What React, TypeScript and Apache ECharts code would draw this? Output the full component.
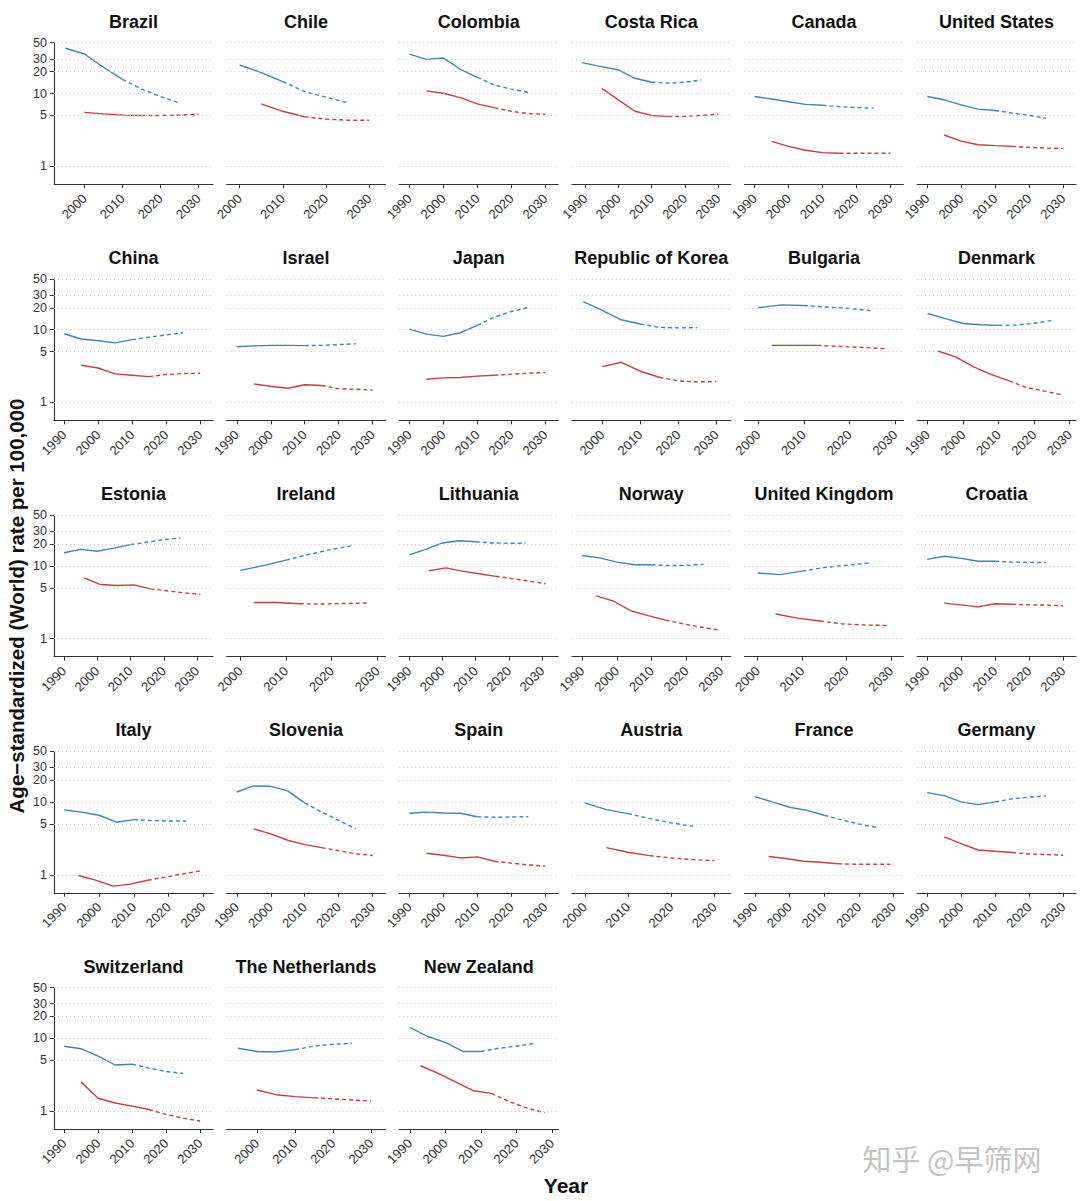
import React, { useEffect, useRef } from 'react';
import * as echarts from 'echarts';

const COUNTRIES = [
  'Brazil', 'Chile', 'Colombia', 'Costa Rica', 'Canada', 'United States',
  'China', 'Israel', 'Japan', 'Republic of Korea', 'Bulgaria', 'Denmark',
  'Estonia', 'Ireland', 'Lithuania', 'Norway', 'United Kingdom', 'Croatia',
  'Italy', 'Slovenia', 'Spain', 'Austria', 'France', 'Germany',
  'Switzerland', 'The Netherlands', 'New Zealand',
];

const BLUE_OBS_YEARS = [
  [1995, 2000, 2005, 2010], [2000, 2005, 2010], [1990, 1995, 2000, 2005, 2010], [1989, 1995, 2000, 2005, 2010], [1990, 1995, 2000, 2005, 2010], [1990, 1995, 2000, 2005, 2010],
  [1990, 1995, 2000, 2005, 2010], [1990, 1995, 2000, 2005, 2010], [1990, 1995, 2000, 2005, 2010], [1995, 2000, 2005, 2010], [2000, 2005, 2010], [1990, 1995, 2000, 2005, 2010],
  [1990, 1995, 2000, 2005, 2010], [2000, 2005, 2010], [1990, 1995, 2000, 2005, 2010], [1990, 1995, 2000, 2005, 2010], [2000, 2005, 2010], [1990, 1995, 2000, 2005, 2010],
  [1990, 1995, 2000, 2005, 2010], [1990, 1995, 2000, 2005, 2010], [1990, 1995, 2000, 2005, 2010], [2000, 2005, 2010], [1990, 1995, 2000, 2005, 2010], [1990, 1995, 2000, 2005, 2010],
  [1990, 1995, 2000, 2005, 2010], [1995, 2000, 2005, 2010], [1990, 1995, 2000, 2005, 2010],
];
const BLUE_OBS = [
  [42, 35, 23, 15.7], [24.7, 19.4, 14.6], [34.9, 29.5, 30.8, 21.5, 16.7], [26.6, 23.4, 21.1, 16.2, 14.3], [9.1, 8.4, 7.7, 7.1, 6.9], [9.1, 8.2, 7.0, 6.1, 5.85],
  [8.8, 7.45, 7.07, 6.6, 7.3], [5.85, 6.0, 6.1, 6.1, 6.05], [10.2, 8.7, 8.1, 9.1, 11.5], [24.4, 18.4, 13.7, 12.0], [20.0, 22.0, 21.5], [16.7, 14.2, 12.2, 11.7, 11.5],
  [15.2, 16.9, 15.9, 17.6, 19.6], [8.7, 10.1, 12.0], [14.2, 16.9, 20.7, 22.2, 21.5], [13.9, 12.9, 11.3, 10.4, 10.4], [8.0, 7.6, 8.5], [12.3, 13.6, 12.7, 11.6, 11.6],
  [7.8, 7.3, 6.6, 5.3, 5.75], [13.8, 16.7, 16.5, 14.3, 9.7], [7.03, 7.3, 7.1, 7.03, 6.3], [9.75, 7.9, 6.95], [11.9, 10.1, 8.5, 7.7, 6.6], [13.5, 12.3, 10.1, 9.25, 10.1],
  [7.8, 7.2, 5.7, 4.3, 4.4], [7.3, 6.6, 6.5, 7.0], [14.2, 10.6, 8.8, 6.6, 6.6],
];
const BLUE_PROJ_YEARS = [2015, 2020, 2025];
const BLUE_PROJ = [
  [11.5, 9.1, 7.4], [10.7, 8.9, 7.5], [13.1, 11.5, 10.4], [13.9, 14.3, 15.4], [6.6, 6.4, 6.3], [5.4, 5.0, 4.6],
  [7.9, 8.5, 9.1], [6.1, 6.25, 6.4], [14.9, 17.8, 20.2], [10.8, 10.6, 10.7], [20.5, 19.6, 18.2], [11.6, 12.3, 13.4],
  [21.3, 23.0, 24.2], [14.4, 16.9, 19.2], [20.7, 20.5, 20.5], [10.1, 10.2, 10.5], [9.5, 10.2, 11.0], [11.3, 11.2, 11.1],
  [5.6, 5.5, 5.5], [7.3, 5.6, 4.3], [6.2, 6.25, 6.3], [5.94, 5.18, 4.66], [5.7, 5.0, 4.5], [11.1, 11.7, 12.2],
  [3.9, 3.5, 3.3], [7.8, 8.3, 8.5], [7.3, 7.8, 8.5],
];

const RED_OBS_YEARS = [
  [2000, 2005, 2010, 2015], [2005, 2010, 2015], [1995, 2000, 2005, 2010, 2015], [1995, 2000, 2005, 2010, 2015], [1995, 2000, 2005, 2010, 2015], [1995, 2000, 2005, 2010, 2015],
  [1995, 2000, 2005, 2010, 2015], [1995, 2000, 2005, 2010, 2015], [1995, 2000, 2005, 2010, 2015], [2000, 2005, 2010, 2015], [2003, 2008, 2013], [1993, 1998, 2003, 2008, 2013],
  [1996, 2001, 2006, 2011, 2016], [2003, 2008, 2013], [1996, 2001, 2006, 2011, 2016], [1994, 1999, 2004, 2009, 2014], [2004, 2009, 2014], [1995, 2000, 2005, 2010, 2015],
  [1994, 1999, 2004, 2009, 2014], [1995, 2000, 2005, 2010, 2015], [1995, 2000, 2005, 2010, 2015], [2005, 2010, 2015], [1994, 1999, 2004, 2009, 2014], [1995, 2000, 2005, 2010, 2015],
  [1995, 2000, 2005, 2010, 2015], [2000, 2005, 2010, 2015], [1993, 1998, 2003, 2008, 2013],
];
const RED_OBS = [
  [5.5, 5.25, 5.05, 5.0], [7.2, 5.7, 4.8], [10.9, 10.1, 8.8, 7.2, 6.4], [11.8, 8.2, 5.7, 5.0, 4.85], [2.2, 1.88, 1.66, 1.54, 1.51], [2.69, 2.22, 1.98, 1.92, 1.88],
  [3.25, 2.98, 2.47, 2.37, 2.27], [1.8, 1.67, 1.57, 1.75, 1.71], [2.09, 2.18, 2.2, 2.3, 2.37], [3.11, 3.57, 2.69, 2.22], [6.1, 6.1, 6.1], [5.1, 4.2, 3.08, 2.42, 1.98],
  [6.85, 5.55, 5.38, 5.5, 4.84], [3.15, 3.15, 3.02], [8.6, 9.4, 8.5, 7.8, 7.2], [3.88, 3.28, 2.42, 2.07, 1.8], [2.18, 1.92, 1.75], [3.08, 2.92, 2.74, 3.02, 2.97],
  [0.98, 0.845, 0.7, 0.745, 0.845], [4.28, 3.66, 2.99, 2.61, 2.37], [1.98, 1.86, 1.71, 1.77, 1.54], [2.37, 2.05, 1.84], [1.79, 1.68, 1.54, 1.49, 1.42], [3.33, 2.69, 2.2, 2.11, 2.03],
  [2.5, 1.5, 1.29, 1.17, 1.05], [1.95, 1.68, 1.58, 1.52], [4.2, 3.3, 2.5, 1.9, 1.75],
];
const RED_PROJ_YEARS = [
  [2020, 2025, 2030], [2020, 2025, 2030], [2020, 2025, 2030], [2020, 2025, 2030], [2020, 2025, 2030], [2020, 2025, 2030],
  [2020, 2025, 2030], [2020, 2025, 2030], [2020, 2025, 2030], [2020, 2025, 2030], [2018, 2023, 2028], [2018, 2023, 2028],
  [2021, 2026, 2031], [2018, 2023, 2028], [2021, 2026, 2031], [2019, 2024, 2029], [2019, 2024, 2029], [2020, 2025, 2030],
  [2019, 2024, 2029], [2020, 2025, 2030], [2020, 2025, 2030], [2020, 2025, 2030], [2019, 2024, 2029], [2020, 2025, 2030],
  [2020, 2025, 2030], [2020, 2025, 2030], [2018, 2023, 2028],
];
const RED_PROJ = [
  [4.98, 5.05, 5.2], [4.45, 4.3, 4.3], [5.7, 5.3, 5.2], [4.85, 5.0, 5.2], [1.51, 1.51, 1.51], [1.82, 1.78, 1.76],
  [2.42, 2.5, 2.52], [1.54, 1.52, 1.48], [2.45, 2.52, 2.58], [1.98, 1.92, 1.94], [5.9, 5.7, 5.5], [1.6, 1.43, 1.27],
  [4.55, 4.27, 4.05], [3.0, 3.05, 3.1], [6.7, 6.2, 5.7], [1.6, 1.45, 1.32], [1.6, 1.54, 1.52], [2.92, 2.9, 2.83],
  [0.93, 1.03, 1.13], [2.15, 1.95, 1.85], [1.45, 1.37, 1.32], [1.71, 1.62, 1.57], [1.4, 1.4, 1.4], [1.94, 1.9, 1.86],
  [0.9, 0.8, 0.73], [1.47, 1.42, 1.37], [1.35, 1.1, 0.95],
];

const Y_TICKS = [1, 5, 10, 20, 30, 50];
const X_TICKS = [1990, 2000, 2010, 2020, 2030];
const Y_MIN = 0.567;
const Y_MAX = 50;

const BLUE = '#3a86b8';
const RED = '#cf3b3b';
const FONT = '"Liberation Sans", Arial, Helvetica, sans-serif';

const COLS = 6;
const LEFT0 = 54;
const STEP_X = 172.6;
const PANEL_W = 159;
const TOP0 = 42.7;
const STEP_Y = 236.2;
const PANEL_H = 141.5;

const pairs = (xs: number[], ys: number[]) => xs.map((x, k) => [x, ys[k]]);

function buildOption() {
  const grid: any[] = [];
  const xAxis: any[] = [];
  const yAxis: any[] = [];
  const series: any[] = [];
  const graphic: any[] = [];

  COUNTRIES.forEach((name, i) => {
    const col = i % COLS;
    const row = Math.floor(i / COLS);
    const left = LEFT0 + STEP_X * col;
    const top = TOP0 + STEP_Y * row;
    grid.push({ left, top, width: PANEL_W, height: PANEL_H, outerBoundsMode: 'none', containLabel: false });

    const first = Math.min(BLUE_OBS_YEARS[i][0], RED_OBS_YEARS[i][0]);
    const last = Math.max(BLUE_PROJ_YEARS[BLUE_PROJ_YEARS.length - 1], RED_PROJ_YEARS[i][RED_PROJ_YEARS[i].length - 1]);
    const xmin = first - 3;
    const xmax = last + 3.8;
    const ticks = X_TICKS.filter((t) => t >= xmin && t <= xmax);

    xAxis.push({
      type: 'value', gridIndex: i, min: xmin, max: xmax, position: 'bottom',
      axisLine: { show: true, onZero: false, lineStyle: { color: '#333', width: 1.1 } },
      axisTick: { show: true, length: 4, customValues: ticks, lineStyle: { color: '#333', width: 1 } },
      axisLabel: {
        customValues: ticks, rotate: 45, fontSize: 13, color: '#333', margin: 12, fontFamily: FONT,
        formatter: (v: number) => String(Math.round(v)),
      },
      splitLine: { show: false },
    });
    const showY = col === 0;
    yAxis.push({
      type: 'log', logBase: 10, gridIndex: i, min: Y_MIN, max: Y_MAX,
      axisLine: { show: showY, onZero: false, lineStyle: { color: '#333', width: 1.1 } },
      axisTick: { show: showY, length: 4, customValues: Y_TICKS, lineStyle: { color: '#333' } },
      axisLabel: {
        show: showY, customValues: Y_TICKS, fontSize: 12.5, lineHeight: 12, color: '#333', margin: 7, fontFamily: FONT,
        formatter: (v: number) => String(Math.round(v)),
      },
      splitLine: { show: false },
      minorTick: { show: false },
    });

    const bObs = pairs(BLUE_OBS_YEARS[i], BLUE_OBS[i]);
    const bProj = [bObs[bObs.length - 1], ...pairs(BLUE_PROJ_YEARS, BLUE_PROJ[i])];
    const rObs = pairs(RED_OBS_YEARS[i], RED_OBS[i]);
    const rProj = [rObs[rObs.length - 1], ...pairs(RED_PROJ_YEARS[i], RED_PROJ[i])];

    const base = { type: 'line', xAxisIndex: i, yAxisIndex: i, symbol: 'none', showSymbol: false, silent: true, z: 3 };
    series.push({
      ...base, data: bObs, lineStyle: { color: BLUE, width: 1.4 },
      markLine: {
        silent: true, symbol: 'none', label: { show: false },
        lineStyle: { color: '#c4c4c4', type: [1, 3], width: 1 },
        data: Y_TICKS.map((v) => ({ yAxis: v })),
        animation: false,
      },
    });
    series.push({ ...base, data: bProj, lineStyle: { color: BLUE, width: 1.4, type: [4, 3] } });
    series.push({ ...base, data: rObs, lineStyle: { color: RED, width: 1.4 } });
    series.push({ ...base, data: rProj, lineStyle: { color: RED, width: 1.4, type: [4, 3] } });

    graphic.push({
      type: 'text', x: left + PANEL_W / 2, y: top - 21,
      style: {
        text: name, fontSize: 18, fontWeight: 'bold', fontFamily: FONT, fill: '#111',
        align: 'center', verticalAlign: 'middle', textAlign: 'center', textVerticalAlign: 'middle',
      },
    });
  });

  graphic.push({
    type: 'text', x: 16, y: 606, rotation: Math.PI / 2,
    style: {
      text: 'Age\u2212standardized (World) rate per 100,000', fontSize: 20.5, fontWeight: 'bold', fontFamily: FONT, fill: '#111',
      align: 'center', verticalAlign: 'middle', textAlign: 'center', textVerticalAlign: 'middle',
    },
  });
  graphic.push({
    type: 'text', x: 566, y: 1185,
    style: {
      text: 'Year', fontSize: 21, fontWeight: 'bold', fontFamily: FONT, fill: '#111',
      align: 'center', verticalAlign: 'middle', textAlign: 'center', textVerticalAlign: 'middle',
    },
  });
  graphic.push({
    type: 'text', x: 952, y: 1158,
    style: {
      text: '知乎 @早筛网', fontSize: 29, fontFamily: '"Noto Sans CJK SC", sans-serif', fill: '#c3c3c3',
      align: 'center', verticalAlign: 'middle', textAlign: 'center', textVerticalAlign: 'middle',
    },
  });

  return { animation: false, backgroundColor: '#ffffff', grid, xAxis, yAxis, series, graphic };
}

export default function App() {
  const ref = useRef<HTMLDivElement>(null);
  useEffect(() => {
    document.body.style.margin = '0';
    const chart = echarts.init(ref.current as HTMLDivElement, null, { renderer: 'svg' });
    chart.setOption(buildOption() as any);
    return () => chart.dispose();
  }, []);
  return <div ref={ref} style={{ width: 1080, height: 1201 }} />;
}
